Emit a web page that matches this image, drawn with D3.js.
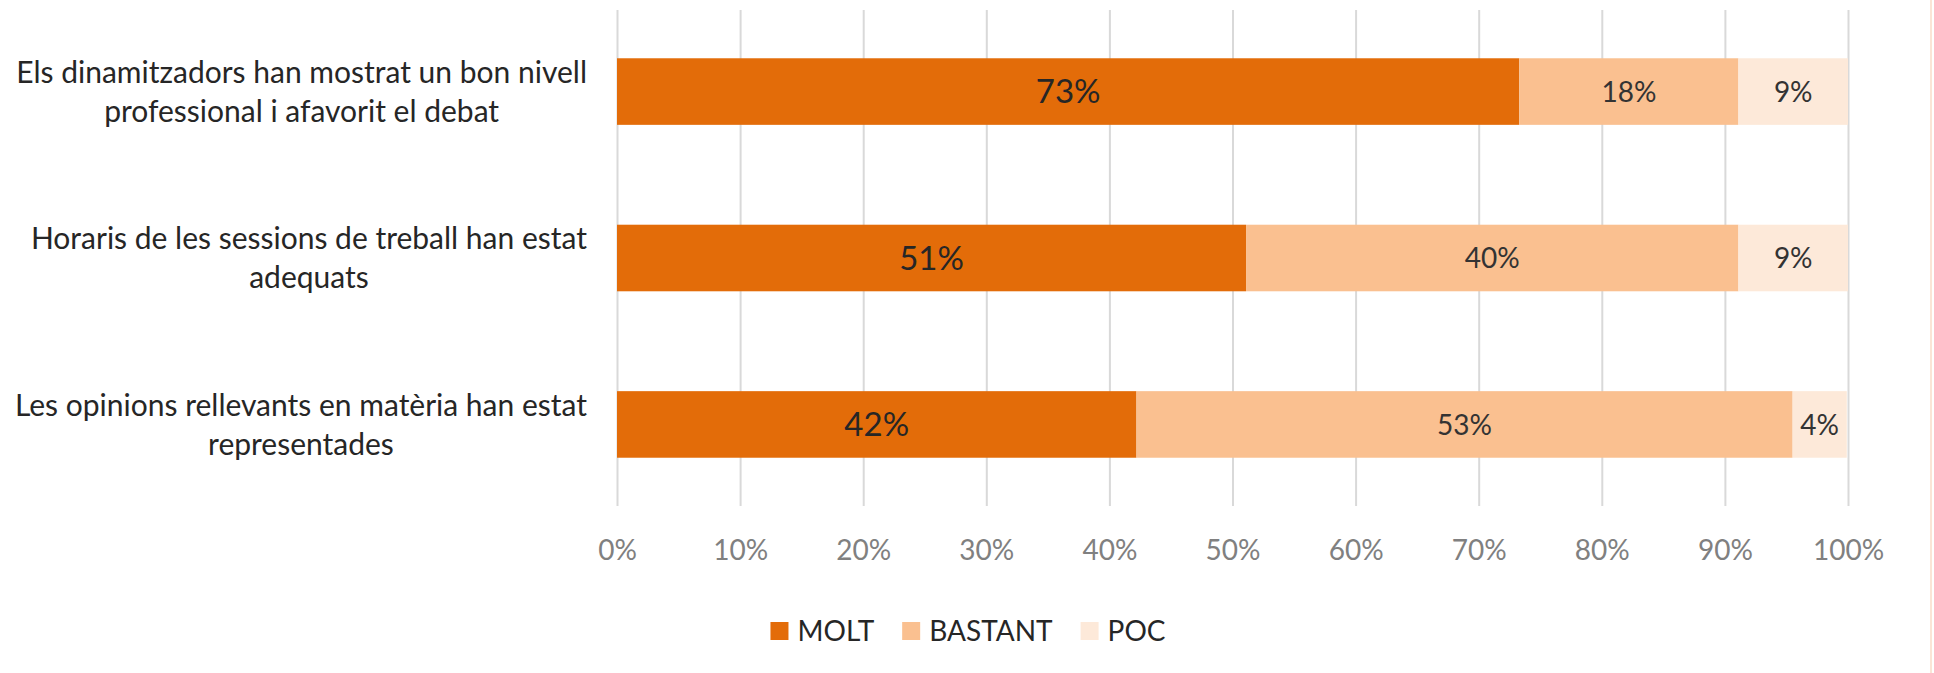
<!DOCTYPE html>
<html>
<head>
<meta charset="utf-8">
<script src="https://cdn.jsdelivr.net/npm/d3@7"></script>
<style>
  body { margin: 0; background: #fff; }
  svg { display: block; font-family: Lato, "Open Sans", sans-serif; }
</style>
</head>
<body>
<script>
// categories (each one split in the two lines it shows on screen)
var categories = [
    ["Els dinamitzadors han mostrat un bon nivell", "professional i afavorit el debat"],
    ["Horaris de les sessions de treball han estat", "adequats"],
    ["Les opinions rellevants en matèria han estat", "representades"]
];
var seriesNames = ["MOLT", "BASTANT", "POC"];
var molt = [73.3, 51.1, 42.2];
var bastant = [17.8, 40.0, 53.3];
var poc = [8.9, 8.9, 4.4];
var xTicks = [0, 10, 20, 30, 40, 50, 60, 70, 80, 90, 100];

var colors = ["#E36C09", "#FAC090", "#FDE9D9"];

var width = 1934,
    height = 673;

var svg = d3.select("body")
    .append("svg")
    .attr("width", width)
    .attr("height", height);

//build rows for the stack
var rows = categories.map(function(c, i){
    return { key: i, MOLT: molt[i], BASTANT: bastant[i], POC: poc[i] };
});
var stack = d3.stack().keys(seriesNames)(rows);

var x = d3.scaleLinear()
    .domain([0, 100])
    .range([617, 1848]);

var y = d3.scaleBand()
    .domain(d3.range(categories.length))
    .range([10, 506])
    .paddingInner(0.6)
    .paddingOuter(0.29);

//gridlines
svg.append("g")
    .attr("class", "grid")
    .attr("transform", "translate(0,506)")
    .call(d3.axisBottom(x).tickValues(xTicks).tickSize(-496).tickFormat(""))
    .call(function(g){
        g.select(".domain").remove();
        g.selectAll("line").attr("stroke", "#D9D9D9").attr("stroke-width", 2);
    });

//tick labels
svg.append("g")
    .attr("transform", "translate(0,506)")
    .call(d3.axisBottom(x).tickValues(xTicks).tickSize(0).tickPadding(34)
        .tickFormat(function(d){ return d + "%"; }))
    .call(function(g){
        g.select(".domain").remove();
        g.selectAll("text")
            .attr("fill", "#808080")
            .attr("font-size", 28)
            .attr("font-family", "Lato, sans-serif");
    });

//bars
var layers = svg.selectAll(".layer")
    .data(stack)
    .enter()
    .append("g")
    .attr("class", "layer")
    .attr("fill", function(d, i){ return colors[i]; });

layers.selectAll("rect")
    .data(function(d){ return d; })
    .enter()
    .append("rect")
    .attr("x", function(d){ return x(d[0]); })
    .attr("y", function(d, i){ return y(i); })
    .attr("width", function(d){ return x(d[1]) - x(d[0]); })
    .attr("height", y.bandwidth());

//value labels
var fmt = function(v){ return Math.round(v) + "%"; };
layers.each(function(layer, li){
    d3.select(this).selectAll("text")
        .data(layer)
        .enter()
        .append("text")
        .attr("x", function(d){ return (x(d[0]) + x(d[1])) / 2; })
        .attr("y", function(d, i){ return y(i) + y.bandwidth() / 2; })
        .attr("dy", "0.36em")
        .attr("text-anchor", "middle")
        .attr("fill", li === 0 ? "#262626" : "#333333")
        .attr("font-size", li === 0 ? 33 : 28)
        .text(function(d){ return fmt(d[1] - d[0]); });
});

//category labels, lines centered on each other, block right aligned
var labelRight = 587;
categories.forEach(function(lines, i){
    var g = svg.append("g");
    var cy = y(i) + y.bandwidth() / 2;
    var texts = lines.map(function(t, j){
        return g.append("text")
            .attr("y", cy + (j - 0.5) * 39)
            .attr("dy", "0.36em")
            .attr("text-anchor", "middle")
            .attr("fill", "#262626")
            .attr("font-size", 30)
            .text(t);
    });
    var w = d3.max(texts, function(t){ return t.node().getComputedTextLength(); });
    texts.forEach(function(t){ t.attr("x", labelRight - w / 2); });
});

//legend
var legend = svg.append("g");
var lx = 0, sw = 18, textGap = 9, itemGap = 28;
seriesNames.forEach(function(name, i){
    var item = legend.append("g").attr("transform", "translate(" + lx + ",0)");
    item.append("rect")
        .attr("x", 0).attr("y", -sw / 2)
        .attr("width", sw).attr("height", sw)
        .attr("fill", colors[i]);
    var t = item.append("text")
        .attr("x", sw + textGap)
        .attr("dy", "0.36em")
        .attr("fill", "#262626")
        .attr("font-size", 28)
        .text(name);
    lx += sw + textGap + t.node().getComputedTextLength() + itemGap;
});
var legendW = lx - itemGap;
legend.attr("transform", "translate(" + (968 - legendW / 2) + ",631)");

//faint frame edge on the right
svg.append("line")
    .attr("x1", 1931).attr("x2", 1931)
    .attr("y1", 0).attr("y2", height)
    .attr("stroke", "#FBE5D6")
    .attr("stroke-width", 2);
</script>
</body>
</html>
